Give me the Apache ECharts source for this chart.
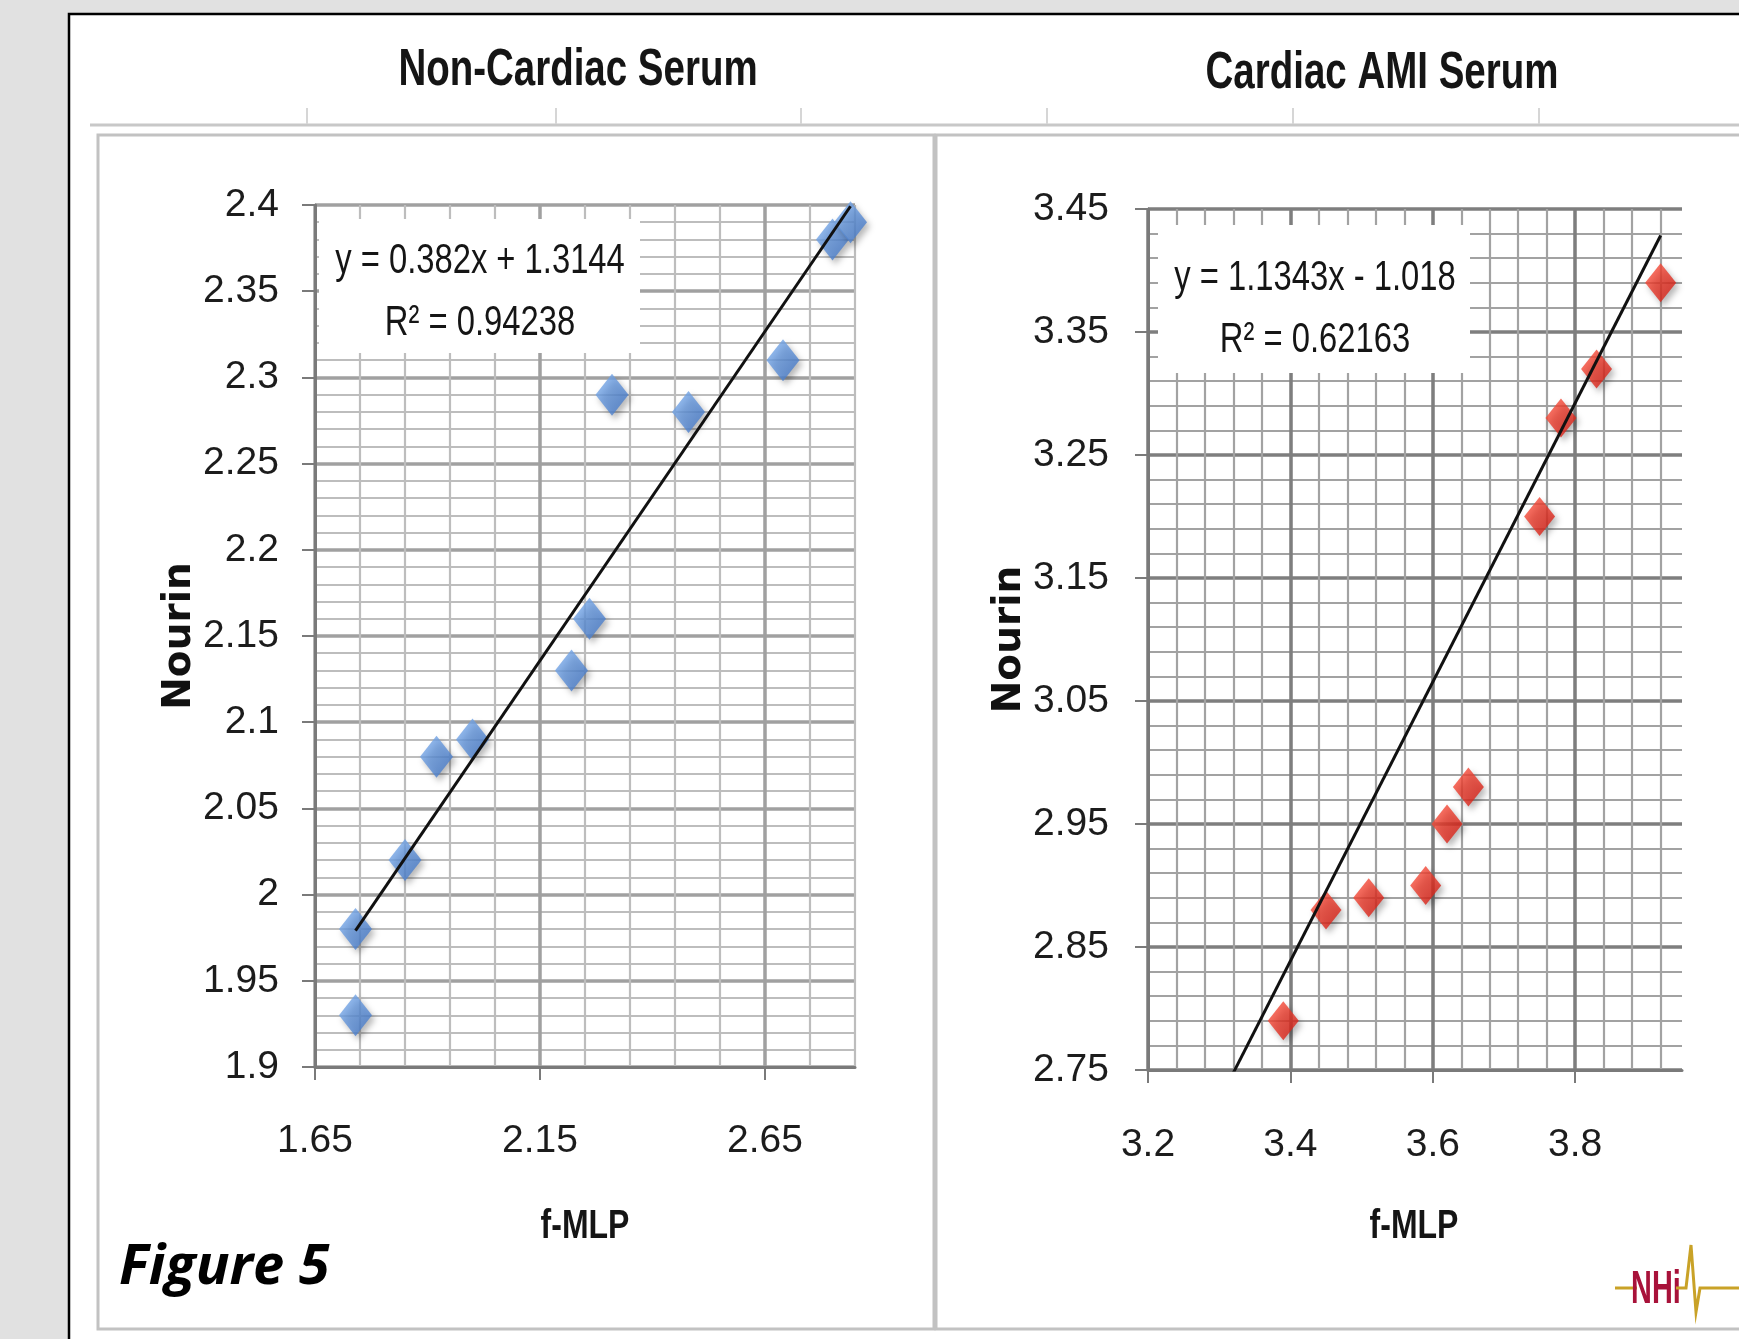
<!DOCTYPE html>
<html>
<head>
<meta charset="utf-8">
<script src="https://cdn.jsdelivr.net/npm/echarts@6/dist/echarts.min.js"></script>
<style>
  html, body { margin: 0; padding: 0; background: #e1e1e1; }
  #chart { width: 1739px; height: 1339px; }
</style>
</head>
<body>
<div id="chart"></div>
<script>
// Non-Cardiac Serum (f-MLP vs Nourin)
const nonCardiacX = [1.74, 1.74, 1.85, 1.92, 2.0, 2.22, 2.26, 2.31, 2.48, 2.69, 2.80, 2.84]
const nonCardiacY = [1.93, 1.98, 2.02, 2.08, 2.09, 2.13, 2.16, 2.29, 2.28, 2.31, 2.38, 2.39]
const nonCardiacFit = [0.382, 1.3144] // slope, intercept
const nonCardiacTrendX = [1.74, 2.84]

// Cardiac AMI Serum
const amiX = [3.39, 3.45, 3.51, 3.59, 3.62, 3.65, 3.75, 3.78, 3.83, 3.92]
const amiY = [2.79, 2.88, 2.89, 2.90, 2.95, 2.98, 3.20, 3.28, 3.32, 3.39]
const amiFit = [1.1343, -1.018]
const amiTrendX = [3.30, 3.92]

// axis ranges: [min, max, major step, minor step]
const leftXRange = [1.65, 2.85, 0.5, 0.1]
const leftYRange = [1.9, 2.4, 0.05, 0.01]
const rightXRange = [3.2, 3.95, 0.2, 0.04]
const rightYRange = [2.75, 3.45, 0.1, 0.02]

const titles = ['Non-Cardiac Serum', 'Cardiac AMI Serum']
const equations = [
  ['y = 0.382x + 1.3144', 'R\u00b2 = 0.94238'],
  ['y = 1.1343x - 1.018', 'R\u00b2 = 0.62163']
]

const sans = "'Liberation Sans', Arial, sans-serif"

const chart = echarts.init(document.getElementById('chart'))

function fmt(v) {
  return String(+v.toFixed(2))
}

// light axis that only draws the minor grid
function minorAxis(grid, range, pos, color, showMax) {
  return {
    type: 'value', gridIndex: grid, position: pos,
    min: range[0], max: range[1], interval: range[3],
    axisLine: { show: false }, axisTick: { show: false }, axisLabel: { show: false },
    splitLine: { show: true, showMaxLine: showMax, lineStyle: { color: color, width: 2.2 } }
  }
}

// axis with line, ticks, labels and the major grid
function majorAxis(grid, range, pos, color, name, nameGap, margin) {
  const isY = pos === 'left'
  return {
    type: 'value', gridIndex: grid, position: pos,
    min: range[0], max: range[1], interval: range[2],
    name: name, nameLocation: 'middle', nameGap: nameGap,
    nameTextStyle: { fontFamily: 'DejaVu Sans', fontWeight: 'bold', fontSize: 39, color: '#111' },
    axisLine: { show: true, onZero: false, lineStyle: { color: '#7a7a7a', width: 3 } },
    axisTick: { show: true, length: 13, lineStyle: { color: '#7a7a7a', width: 2 } },
    axisLabel: {
      margin: margin, fontFamily: sans, fontSize: 39, color: '#1c1c1c',
      showMaxLabel: isY, formatter: fmt
    },
    splitLine: { show: true, showMaxLine: isY, lineStyle: { color: color, width: 3.5 } }
  }
}

const blueFill = new echarts.graphic.LinearGradient(0, 0, 1, 1, [
  { offset: 0, color: '#84b4f0' },
  { offset: 1, color: '#3a6fc2' }
])
const redFill = new echarts.graphic.LinearGradient(0, 0, 1, 1, [
  { offset: 0, color: '#ff5a45' },
  { offset: 1, color: '#d0140c' }
])
const shadow = { shadowBlur: 6, shadowColor: 'rgba(0,0,0,0.35)', shadowOffsetX: 3, shadowOffsetY: 4 }

// condensed-looking text (no narrow font installed, so squeeze it)
function label(text, x, y, size, bold, extra) {
  return Object.assign({
    type: 'text', z: 2, silent: true, x: x, y: y, scaleX: 0.78,
    style: { text: text, fontFamily: sans, fontWeight: bold ? 'bold' : 'normal', fontSize: size,
      fill: '#151515', align: 'center', verticalAlign: 'middle' }
  }, extra || {})
}

function eqBox(x, y, w, h, lines, cx, ys) {
  return [
    { type: 'rect', z: 1, silent: true, shape: { x: x, y: y, width: w, height: h }, style: { fill: '#fff' } },
    label(lines[0], cx, ys[0], 42, false),
    label(lines[1], cx, ys[1], 42, false)
  ]
}

const colTicks = [307, 556, 801, 1047, 1293, 1539].map((x) => ({
  type: 'line', silent: true, shape: { x1: x, y1: 108, x2: x, y2: 124 }, style: { stroke: '#d6d6d6', lineWidth: 2 }
}))

const option = {
  animation: false,
  backgroundColor: '#e1e1e1',
  grid: [
    { left: 315, top: 205, width: 540, height: 862 },
    { left: 1148, top: 209, width: 534, height: 861 }
  ],
  xAxis: [
    minorAxis(0, leftXRange, 'bottom', '#bdbdbd', true),
    majorAxis(0, leftXRange, 'bottom', '#a0a0a0', '', 0, 55),
    minorAxis(1, rightXRange, 'bottom', '#a2a2a2', false),
    majorAxis(1, rightXRange, 'bottom', '#7e7e7e', '', 0, 56)
  ],
  yAxis: [
    minorAxis(0, leftYRange, 'left', '#bdbdbd', true),
    majorAxis(0, leftYRange, 'left', '#a0a0a0', 'Nourin', 115, 36),
    minorAxis(1, rightYRange, 'left', '#a2a2a2', true),
    majorAxis(1, rightYRange, 'left', '#7e7e7e', 'Nourin', 111, 39)
  ],
  graphic: [
    { type: 'rect', z: -5, silent: true, shape: { x: 69, y: 14, width: 1720, height: 1380 },
      style: { fill: '#fff', stroke: '#000', lineWidth: 2.5 } },
    { type: 'line', z: -4, silent: true, shape: { x1: 90, y1: 125, x2: 1739, y2: 125 },
      style: { stroke: '#c8c8c8', lineWidth: 3 } },
    { type: 'rect', z: -4, silent: true, shape: { x: 98, y: 135, width: 836, height: 1194 },
      style: { fill: null, stroke: '#c2c2c2', lineWidth: 3 } },
    { type: 'rect', z: -4, silent: true, shape: { x: 936, y: 135, width: 900, height: 1194 },
      style: { fill: null, stroke: '#c2c2c2', lineWidth: 3 } },
    ...colTicks,
    label(titles[0], 578, 71, 52, true, { scaleX: 0.74 }),
    label(titles[1], 1382, 74, 52, true, { scaleX: 0.74 }),
    label('f-MLP', 585, 1227, 40, true, { scaleX: 0.8 }),
    label('f-MLP', 1414, 1227, 40, true, { scaleX: 0.8 }),
    ...eqBox(319, 219, 321, 134, equations[0], 480, [261, 323]),
    ...eqBox(1158, 225, 312, 148, equations[1], 1315, [278, 340]),
    { type: 'text', silent: true, x: 119, y: 1268,
      style: { text: 'Figure 5', fontFamily: "'Open Sans', sans-serif", fontWeight: 'bold', fontStyle: 'italic',
        fontSize: 56, fill: '#000', verticalAlign: 'middle' } },
    // NHI logo
    { type: 'polyline', silent: true, shape: { points: [[1615, 1288], [1637, 1288]] },
      style: { stroke: '#c9a227', lineWidth: 3, fill: null } },
    { type: 'text', silent: true, x: 1656, y: 1290, scaleY: 1.35, scaleX: 0.85,
      style: { text: 'NHi', fontFamily: sans, fontWeight: 'bold', fontSize: 34, fill: '#a8123a',
        align: 'center', verticalAlign: 'middle' } },
    { type: 'polyline', silent: true,
      shape: { points: [[1676, 1288], [1686, 1288], [1691, 1245], [1696, 1312], [1700, 1288], [1739, 1288]] },
      style: { stroke: '#c9a227', lineWidth: 3, fill: null } }
  ],
  series: [
    {
      type: 'scatter', xAxisIndex: 0, yAxisIndex: 0, z: 3,
      symbol: 'diamond', symbolSize: [33, 42],
      itemStyle: Object.assign({ color: blueFill }, shadow),
      data: nonCardiacX.map((x, i) => [x, nonCardiacY[i]])
    },
    {
      type: 'line', xAxisIndex: 0, yAxisIndex: 0, z: 4,
      showSymbol: false, lineStyle: { color: '#111', width: 3 },
      data: nonCardiacTrendX.map((x) => [x, nonCardiacFit[0] * x + nonCardiacFit[1]])
    },
    {
      type: 'scatter', xAxisIndex: 2, yAxisIndex: 2, z: 3,
      symbol: 'diamond', symbolSize: [31, 39],
      itemStyle: Object.assign({ color: redFill }, shadow),
      data: amiX.map((x, i) => [x, amiY[i]])
    },
    {
      type: 'line', xAxisIndex: 2, yAxisIndex: 2, z: 4, clip: true,
      showSymbol: false, lineStyle: { color: '#111', width: 3 },
      data: amiTrendX.map((x) => [x, amiFit[0] * x + amiFit[1]])
    }
  ]
}

chart.setOption(option)
window.addEventListener('resize', function () {
  chart.resize()
})
</script>
</body>
</html>
